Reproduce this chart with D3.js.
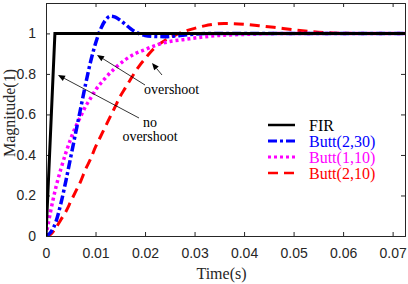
<!DOCTYPE html>
<html>
<head>
<meta charset="utf-8">
<script src="https://cdn.jsdelivr.net/npm/d3@7"></script>
<style>
  body { margin: 0; background: #fff; }
  .tick text { font-family: "Liberation Sans", Arial, sans-serif; font-size: 14px; fill: #262626; }
  .axis path, .axis line { stroke: #262626; }
</style>
</head>
<body>
<script>
// time axis (s)
let firT = [0, 0.0018, 0.0725];
let firV = [0, 1, 1];

let buttT = [0, 0.001, 0.002, 0.003, 0.004, 0.005, 0.006, 0.007, 0.008, 0.009, 0.010, 0.011, 0.012, 0.013, 0.014, 0.015, 0.016, 0.017, 0.018, 0.019, 0.020, 0.022, 0.024, 0.026, 0.028, 0.030, 0.034, 0.040, 0.0725];
let butt230 = [0, 0.02, 0.07, 0.16, 0.27, 0.39, 0.51, 0.63, 0.75, 0.86, 0.95, 1.02, 1.065, 1.085, 1.08, 1.065, 1.045, 1.025, 1.008, 0.997, 0.99, 0.985, 0.984, 0.987, 0.992, 0.996, 1.0, 1.0, 1.0];

let butt110T = [0, 0.001, 0.002, 0.003, 0.004, 0.005, 0.006, 0.007, 0.008, 0.009, 0.010, 0.012, 0.014, 0.016, 0.018, 0.020, 0.022, 0.025, 0.028, 0.031, 0.035, 0.040, 0.050, 0.0725];
let butt110 = [0, 0.13, 0.24, 0.33, 0.41, 0.48, 0.54, 0.59, 0.64, 0.68, 0.72, 0.78, 0.83, 0.87, 0.90, 0.92, 0.94, 0.96, 0.97, 0.98, 0.99, 0.995, 1.0, 1.0];

let butt210T = [0, 0.001, 0.002, 0.003, 0.004, 0.005, 0.006, 0.007, 0.008, 0.009, 0.010, 0.011, 0.012, 0.013, 0.014, 0.015, 0.016, 0.017, 0.018, 0.019, 0.020, 0.021, 0.022, 0.024, 0.026, 0.028, 0.030, 0.032, 0.034, 0.036, 0.038, 0.040, 0.043, 0.046, 0.050, 0.054, 0.058, 0.062, 0.0725];
let butt210 = [0, 0.01, 0.04, 0.08, 0.12, 0.17, 0.22, 0.27, 0.33, 0.38, 0.44, 0.49, 0.54, 0.59, 0.64, 0.69, 0.73, 0.77, 0.81, 0.845, 0.875, 0.905, 0.93, 0.965, 0.99, 1.01, 1.025, 1.037, 1.045, 1.049, 1.048, 1.045, 1.038, 1.03, 1.018, 1.008, 1.002, 1.0, 1.0];

let xTicks = [0, 0.01, 0.02, 0.03, 0.04, 0.05, 0.06, 0.07];
let yTicks = [0, 0.2, 0.4, 0.6, 0.8, 1];
let legendNames = ["FIR", "Butt(2,30)", "Butt(1,10)", "Butt(2,10)"];

let width = 408;
let height = 284;
let margin = { left: 46, right: 3, top: 3, bottom: 48 };
let w = width - margin.left - margin.right;
let h = height - margin.top - margin.bottom;

let x = d3.scaleLinear().domain([0, 0.0725]).range([0, w]);
let y = d3.scaleLinear().domain([0, 1.15]).range([h, 0]);

let svg = d3.select("body").append("svg").attr("width", width).attr("height", height);
let g = svg.append("g").attr("transform", `translate(${margin.left},${margin.top})`);

let fmt = (d) => d === 0 ? "0" : String(d);

// axes with inward ticks on all four sides
g.append("g").attr("class", "axis").attr("transform", `translate(0,${h})`)
    .call(d3.axisBottom(x).tickValues(xTicks).tickSize(-4).tickPadding(12).tickFormat(fmt));
g.append("g").attr("class", "axis")
    .call(d3.axisLeft(y).tickValues(yTicks).tickSize(-4).tickPadding(10).tickFormat(fmt));
g.append("g").attr("class", "axis")
    .call(d3.axisTop(x).tickValues(xTicks).tickSize(-4).tickFormat(""));
g.append("g").attr("class", "axis").attr("transform", `translate(${w},0)`)
    .call(d3.axisRight(y).tickValues(yTicks).tickSize(-4).tickFormat(""));

let line = d3.line()
    .x((d) => x(d[0]))
    .y((d) => y(d[1]));

let series = [
    { t: firT, v: firV, color: "#000000", dash: null, width: 3, curve: d3.curveLinear },
    { t: buttT, v: butt230, color: "#0000ff", dash: "9,3,3,3", width: 3.5, curve: d3.curveMonotoneX },
    { t: butt110T, v: butt110, color: "#ff00ff", dash: "3,3", width: 3.5, curve: d3.curveMonotoneX },
    { t: butt210T, v: butt210, color: "#ff0000", dash: "10,6", width: 3, curve: d3.curveMonotoneX }
];

svg.append("clipPath").attr("id", "plotclip")
    .append("rect").attr("width", w).attr("height", h);

// draw order: red, magenta, blue, black on top
[3, 2, 1, 0].forEach((i) => {
    let s = series[i];
    g.append("path")
        .attr("d", line.curve(s.curve)(s.t.map((t, k) => [t, s.v[k]])))
        .attr("fill", "none")
        .attr("stroke", s.color)
        .attr("stroke-width", s.width)
        .attr("stroke-dasharray", s.dash)
        .attr("clip-path", "url(#plotclip)");
});

// legend
let serif = "'Liberation Serif', 'Times New Roman', serif";
let legend = svg.append("g").attr("transform", "translate(268,125)");
series.forEach((s, i) => {
    let row = legend.append("g").attr("transform", `translate(0,${i * 16})`);
    row.append("line").attr("x1", 0).attr("x2", 27)
        .attr("stroke", s.color).attr("stroke-width", s.width - 0.5)
        .attr("stroke-dasharray", s.dash);
    row.append("text").attr("x", 41).attr("y", 5.5)
        .attr("font-family", serif)
        .attr("font-size", 16)
        .attr("fill", s.color)
        .text(legendNames[i]);
});

// annotation arrows: head at (x1,y1), tail at (x2,y2)
let arrows = [
    [58, 75, 139, 118],
    [97, 55, 145, 85],
    [152, 63, 162, 75]
];
arrows.forEach((a) => {
    let dx = a[2] - a[0], dy = a[3] - a[1];
    let len = Math.hypot(dx, dy);
    let ux = dx / len, uy = dy / len;
    let hl = 7, hw = 3;
    let bx = a[0] + ux * hl, by = a[1] + uy * hl;
    svg.append("line")
        .attr("x1", bx).attr("y1", by).attr("x2", a[2]).attr("y2", a[3])
        .attr("stroke", "#000").attr("stroke-width", 0.8);
    svg.append("path")
        .attr("d", `M${a[0]},${a[1]}L${bx - uy * hw},${by + ux * hw}L${bx + uy * hw},${by - ux * hw}Z`)
        .attr("fill", "#000");
});

svg.append("text").attr("x", 144).attr("y", 94).attr("font-family", serif).attr("font-size", 14).text("overshoot");
svg.append("text").attr("x", 150).attr("y", 127).attr("text-anchor", "middle").attr("font-family", serif).attr("font-size", 14).text("no");
svg.append("text").attr("x", 150).attr("y", 141).attr("text-anchor", "middle").attr("font-family", serif).attr("font-size", 14).text("overshoot");

// axis titles
svg.append("text").attr("x", margin.left + w / 2 - 4).attr("y", 279)
    .attr("text-anchor", "middle").attr("font-family", serif).attr("font-size", 16)
    .attr("fill", "#262626").text("Time(s)");
svg.append("text").attr("transform", "translate(15,113) rotate(-90)")
    .attr("text-anchor", "middle").attr("font-family", serif).attr("font-size", 16)
    .attr("fill", "#262626").text("Magnitude(1)");
</script>
</body>
</html>
